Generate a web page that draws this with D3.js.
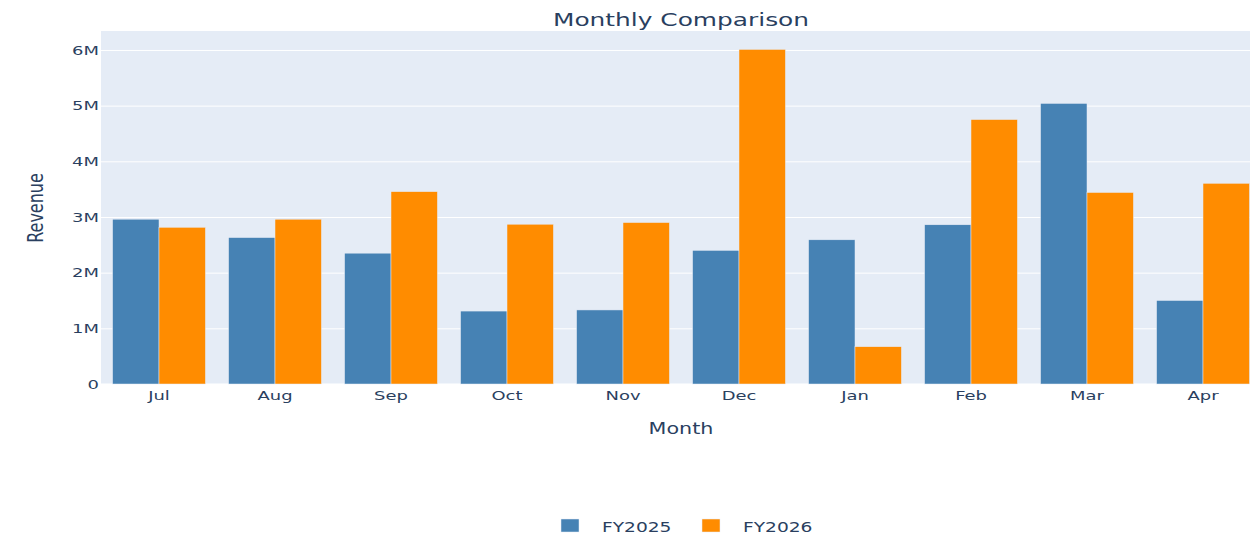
<!DOCTYPE html>
<html>
<head>
<meta charset="utf-8">
<script src="https://cdn.jsdelivr.net/npm/d3@7"></script>
<style>
  html, body { margin: 0; padding: 0; background: #fff; }
  svg { display: block; }
  text { font-family: "DejaVu Sans", Verdana, sans-serif; fill: #2a3f5f; }
</style>
</head>
<body>
<svg id="chart" width="1250" height="538"></svg>
<script>
// Monthly revenue per fiscal year
const months = ["Jul", "Aug", "Sep", "Oct", "Nov", "Dec", "Jan", "Feb", "Mar", "Apr"];
const seriesNames = ["FY2025", "FY2026"];
const fy2025 = [2960000, 2630000, 2350000, 1310000, 1330000, 2400000, 2590000, 2860000, 5040000, 1500000];
const fy2026 = [2815000, 2960000, 3455000, 2870000, 2900000, 6010000, 670000, 4750000, 3440000, 3605000];
const yTickValues = [0, 1000000, 2000000, 3000000, 4000000, 5000000, 6000000];
const colors = ["#4682b4", "#ff8c00"];

const seriesValues = [fy2025, fy2026];
const rows = months.map((m, i) => ({ month: m, values: seriesValues.map(s => s[i]) }));

// Text is rendered wide (horizontal stretch)
const SX = 1.38;
const svg = d3.select("#chart");
const plot = { left: 101, right: 1261, top: 31, bottom: 384 };

const x = d3.scaleBand().domain(months).range([plot.left, plot.right])
  .paddingInner(0.2).paddingOuter(0.1);
const xInner = d3.scaleBand().domain(seriesNames).range([0, x.bandwidth()]).padding(0);
const yMax = d3.max(seriesValues.flat()) * 1.055;
const y = d3.scaleLinear().domain([0, yMax]).range([plot.bottom, plot.top]);

// Plot background
svg.append("rect")
  .attr("x", plot.left).attr("y", plot.top)
  .attr("width", plot.right - plot.left).attr("height", plot.bottom - plot.top)
  .attr("fill", "#e5ecf6");

// Horizontal gridlines via a left axis with full-width ticks
const yAxis = d3.axisLeft(y).tickValues(yTickValues)
  .tickSize(-(plot.right - plot.left)).tickFormat("");
const gGrid = svg.append("g").attr("transform", `translate(${plot.left},0)`).call(yAxis);
gGrid.select(".domain").remove();
gGrid.selectAll(".tick line")
  .attr("stroke", "#fff")
  .attr("stroke-width", d => d === 0 ? 2 : 1);

// Bars
const groups = svg.append("g").selectAll("g")
  .data(rows).join("g")
  .attr("transform", d => `translate(${x(d.month)},0)`);
groups.selectAll("rect")
  .data(d => d.values.map((v, i) => ({ name: seriesNames[i], value: v, idx: i })))
  .join("rect")
  .attr("x", d => xInner(d.name))
  .attr("width", xInner.bandwidth())
  .attr("y", d => y(d.value))
  .attr("height", d => y(0) - y(d.value))
  .attr("fill", d => colors[d.idx])
  .attr("stroke", "#e5ecf6")
  .attr("stroke-width", 0.5);

// Y tick labels
const fmt = d3.format("~s");
svg.append("g").selectAll("text")
  .data(yTickValues).join("text")
  .attr("transform", d => `translate(99,${y(d)}) scale(${SX},1)`)
  .attr("dy", "0.36em")
  .attr("text-anchor", "end")
  .style("font-size", "13px")
  .text(d => fmt(d));

// X tick labels
svg.append("g").selectAll("text")
  .data(months).join("text")
  .attr("transform", d => `translate(${x(d) + x.bandwidth() / 2},400) scale(${SX},1)`)
  .attr("text-anchor", "middle")
  .style("font-size", "13px")
  .text(d => d);

// Titles
const cx = (plot.left + plot.right) / 2;
svg.append("text")
  .attr("transform", `translate(${cx},26) scale(${SX},1)`)
  .attr("text-anchor", "middle")
  .style("font-size", "18px")
  .text("Monthly Comparison");

svg.append("text")
  .attr("transform", `translate(${cx},434) scale(${SX},1)`)
  .attr("text-anchor", "middle")
  .style("font-size", "15px")
  .text("Month");

svg.append("text")
  .attr("transform", `translate(43,208) scale(${SX},1) rotate(-90)`)
  .attr("text-anchor", "middle")
  .style("font-size", "16px")
  .text("Revenue");

// Legend
const legend = svg.append("g").selectAll("g")
  .data(seriesNames).join("g")
  .attr("transform", (d, i) => `translate(${561 + i * 141},0)`);
legend.append("rect")
  .attr("x", 0).attr("y", 519)
  .attr("width", 18).attr("height", 13)
  .attr("fill", (d, i) => colors[i])
  .attr("stroke", "#e5ecf6").attr("stroke-width", 0.5);
legend.append("text")
  .attr("transform", `translate(41,532) scale(${SX},1)`)
  .style("font-size", "13.5px")
  .text(d => d);
</script>
</body>
</html>
